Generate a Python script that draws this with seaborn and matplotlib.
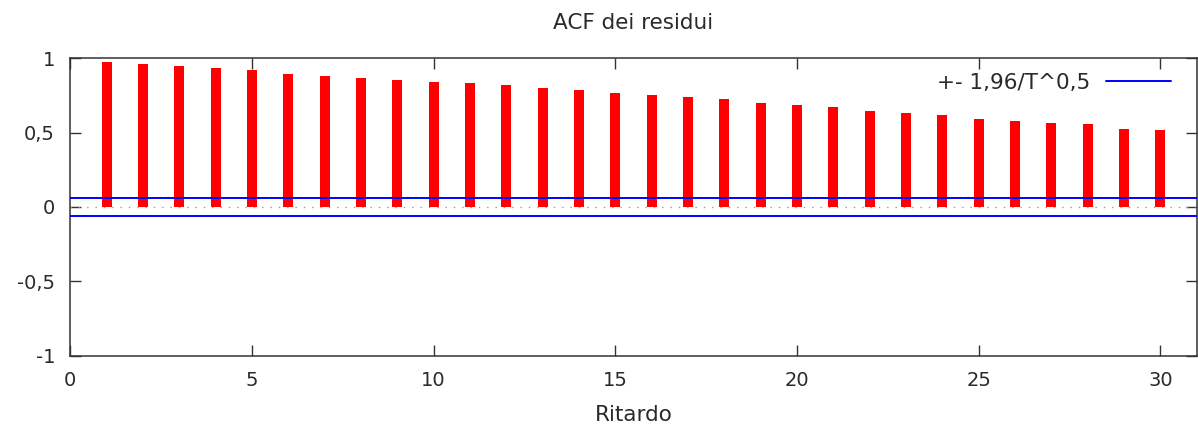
import numpy as np
import pandas as pd
import matplotlib
matplotlib.use("Agg")
import matplotlib.pyplot as plt
import seaborn as sns
from matplotlib.ticker import FuncFormatter, FixedLocator

lags = list(range(1, 31))
acf_values = [0.975, 0.964, 0.950, 0.937, 0.923, 0.896, 0.883, 0.870, 0.856, 0.843,
              0.831, 0.818, 0.802, 0.789, 0.764, 0.750, 0.737, 0.724, 0.699, 0.686,
              0.670, 0.646, 0.632, 0.619, 0.590, 0.580, 0.567, 0.555, 0.527, 0.515]
conf_bound = 0.06
legend_label = "+- 1,96/T^0,5"
title_text = "ACF dei residui"
xlabel_text = "Ritardo"
x_ticks = [0, 5, 10, 15, 20, 25, 30]
y_ticks = [-1, -0.5, 0, 0.5, 1]

sns.set_theme(style="white")
plt.rcParams['font.family'] = ['DejaVu Sans']
text_color = "#2a2a2a"

df = pd.DataFrame({"lag": lags, "acf": acf_values})

fig = plt.figure(figsize=(11.98, 4.30), dpi=100)
ax = fig.add_axes([70.3 / 1198, (430 - 355.7) / 430,
                   (1196.7 - 70.3) / 1198, (355.7 - 58.3) / 430])

sns.barplot(data=df, x="lag", y="acf", native_scale=True, color="#ff0000",
            saturation=1, width=0.28, linewidth=0, ax=ax, zorder=2)

ax.axhline(0, color="#999999", linestyle=(0, (1, 5)), linewidth=1.0, zorder=1)
ax.axhline(conf_bound, color="#0000ff", linewidth=1.4, zorder=3, label=legend_label)
ax.axhline(-conf_bound, color="#0000ff", linewidth=1.4, zorder=3)

ax.set_xlim(0, 31)
ax.set_ylim(-1, 1)
ax.xaxis.set_major_locator(FixedLocator(x_ticks))
ax.yaxis.set_major_locator(FixedLocator(y_ticks))
ax.yaxis.set_major_formatter(FuncFormatter(
    lambda v, p: ("%g" % v).replace(".", ",")))

ax.tick_params(axis="both", which="major", direction="in", length=8, width=1.0,
               color="#333333", labelsize=14, labelcolor=text_color,
               top=True, right=True, bottom=True, left=True)
ax.tick_params(axis="x", pad=11)
ax.tick_params(axis="y", pad=11)

for s in ax.spines.values():
    s.set_visible(True)
    s.set_color("#333333")
    s.set_linewidth(1.1)

ax.set_title(title_text, fontsize=15.5, color=text_color, pad=21)
ax.set_xlabel(xlabel_text, fontsize=15.5, color=text_color, labelpad=11)
ax.set_ylabel("")

leg = ax.legend(loc="center right", bbox_to_anchor=(0.9772, 0.918),
                frameon=False, markerfirst=False, fontsize=15.5,
                handlelength=3.0, handletextpad=0.75, borderpad=0,
                borderaxespad=0)
for t in leg.get_texts():
    t.set_color(text_color)

fig.savefig("out.png", dpi=100)
